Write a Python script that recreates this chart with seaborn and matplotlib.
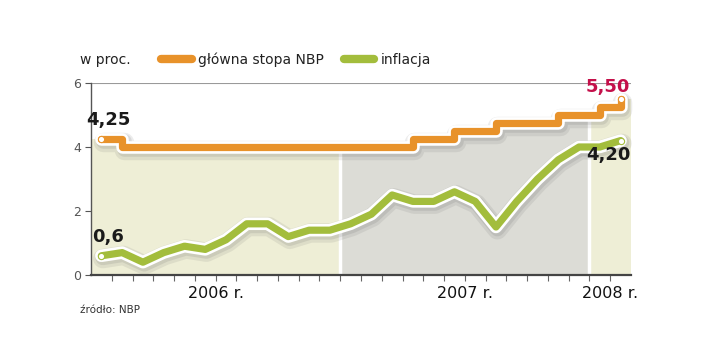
import numpy as np
import pandas as pd
import matplotlib.pyplot as plt
import matplotlib.patheffects as pe
from matplotlib.lines import Line2D
from matplotlib.transforms import blended_transform_factory
import seaborn as sns

# ---------------------------------------------------------
# Data (monthly, Jan 2006 - Feb 2008)
# ---------------------------------------------------------
months = pd.period_range("2006-01", "2008-02", freq="M").astype(str).tolist()
nbp_rate = [4.25, 4.00, 4.00, 4.00, 4.00, 4.00, 4.00, 4.00, 4.00, 4.00, 4.00, 4.00,
            4.00, 4.00, 4.00, 4.25, 4.25, 4.50, 4.50, 4.75, 4.75, 4.75, 5.00, 5.00,
            5.25, 5.50]
inflation = [0.6, 0.7, 0.4, 0.7, 0.9, 0.8, 1.1, 1.6, 1.6, 1.2, 1.4, 1.4,
             1.6, 1.9, 2.5, 2.3, 2.3, 2.6, 2.3, 1.5, 2.3, 3.0, 3.6, 4.0,
             4.0, 4.2]
year_labels = ["2006 r.", "2007 r.", "2008 r."]
year_first_month = [0, 12, 24]
year_colors = ["#eeeed6", "#dcdcd6", "#eeeed6"]

ORANGE = "#e8922a"
GREEN = "#a3bd3c"
RED = "#c4104a"

df = pd.DataFrame({"month": np.arange(len(months)), "rate": nbp_rate, "cpi": inflation})

# ---------------------------------------------------------
# Figure
# ---------------------------------------------------------
sns.set_style("white")
plt.rcParams["font.family"] = ["DejaVu Sans"]

fig = plt.figure(figsize=(7.2, 3.61), dpi=100)
ax = fig.add_axes([91 / 720, 1 - 275 / 361, 540 / 720, 192 / 361])
n = len(months)
ax.set_xlim(-0.5, n - 0.5)
ax.set_ylim(0, 6)


def rate_at(x):
    i = int(np.clip(np.floor(x), 0, n - 1))
    return nbp_rate[i]


# background areas under the rate line, one per year
bounds = [m - 0.5 for m in year_first_month] + [n - 0.5]
for k in range(len(year_labels)):
    a, b = bounds[k], bounds[k + 1]
    xs = [a] + [i for i in range(n) if a < i < b] + [b]
    ys = [rate_at(x) for x in xs]
    ax.fill_between(xs, 0, ys, step="post", color=year_colors[k], lw=0, zorder=1)
for a in bounds[1:-1]:
    ax.vlines(a, 0, rate_at(a), color="white", lw=2.5, zorder=1.2)

ax.yaxis.grid(True, color="#9a9a9a", lw=0.8)
ax.xaxis.grid(False)

# soft shadow + white outline round the lines
effects = [pe.SimpleLineShadow(offset=(1, -2), shadow_color="#666666", alpha=0.12, linewidth=14),
           pe.SimpleLineShadow(offset=(1, -1.5), shadow_color="#666666", alpha=0.15, linewidth=10.5),
           pe.Stroke(linewidth=9, foreground="white"), pe.Normal()]

sns.lineplot(data=df, x="month", y="rate", ax=ax, color=ORANGE, lw=5.2,
             drawstyle="steps-post", solid_capstyle="round", solid_joinstyle="round",
             path_effects=effects, zorder=3, clip_on=False)
sns.lineplot(data=df, x="month", y="cpi", ax=ax, color=GREEN, lw=5.2,
             solid_capstyle="round", solid_joinstyle="round",
             path_effects=effects, zorder=3, clip_on=False)

# end markers
for col, c in [("rate", ORANGE), ("cpi", GREEN)]:
    ends = df.iloc[[0, -1]]
    ax.plot(ends["month"], ends[col], "o", ms=4.5, mfc="white", mec=c, mew=0.8,
            zorder=4, clip_on=False)

# value labels
ax.text(df["month"].iloc[0] + 0.33, nbp_rate[0] + 0.45, "4,25", ha="center", va="baseline",
        fontsize=13, fontweight="bold", color="#1a1a1a", zorder=5)
ax.text(df["month"].iloc[0] + 0.33, inflation[0] + 0.44, "0,6", ha="center", va="baseline",
        fontsize=13, fontweight="bold", color="#1a1a1a", zorder=5)
ax.text(df["month"].iloc[-1] - 0.6, nbp_rate[-1] + 0.23, "5,50", ha="center", va="baseline",
        fontsize=13, fontweight="bold", color=RED, zorder=5)
ax.text(df["month"].iloc[-1] - 0.6, inflation[-1] - 0.61, "4,20", ha="center", va="baseline",
        fontsize=13, fontweight="bold", color="#1a1a1a", zorder=5)

# axes styling
for s in ["top", "right"]:
    ax.spines[s].set_visible(False)
ax.spines["left"].set_color("#555555")
ax.spines["left"].set_linewidth(1.0)
ax.spines["bottom"].set_color("#444444")
ax.spines["bottom"].set_linewidth(1.6)

ax.set_yticks([0, 2, 4, 6])
ax.set_yticklabels(["0", "2", "4", "6"])
ax.tick_params(axis="y", length=4, width=0.8, color="#555555", labelcolor="#555555",
               labelsize=9, pad=3, left=True)
ax.set_xticks(np.arange(0.5, n - 0.5, 1))
ax.set_xticklabels([])
ax.tick_params(axis="x", length=4, width=0.8, color="#666666", bottom=True, direction="out")
ax.set_xlabel("")
ax.set_ylabel("")

trans = blended_transform_factory(ax.transData, ax.transAxes)
for k, lab in enumerate(year_labels):
    xc = (bounds[k] + bounds[k + 1]) / 2
    ax.text(xc, -0.095, lab, transform=trans, ha="center", va="center",
            fontsize=11.5, color="#111111")

# header and legend
fig.text(80 / 720, 1 - 60 / 361, "w proc.", ha="left", va="center", fontsize=10, color="#222222")
handles = [Line2D([], [], color=ORANGE, lw=6, solid_capstyle="round"),
           Line2D([], [], color=GREEN, lw=6, solid_capstyle="round")]
fig.legend(handles, ["główna stopa NBP", "inflacja"], loc="center left",
           bbox_to_anchor=(161 / 720, 1 - 60 / 361), ncol=2, frameon=False,
           fontsize=10, handlelength=2.2, handletextpad=0.46, columnspacing=1.44,
           borderpad=0, borderaxespad=0, labelcolor="#222222")

fig.text(80 / 720, 1 - 310 / 361, "źródło: NBP", ha="left", va="center", fontsize=7.5, color="#333333")

fig.savefig("out.png", dpi=100)
